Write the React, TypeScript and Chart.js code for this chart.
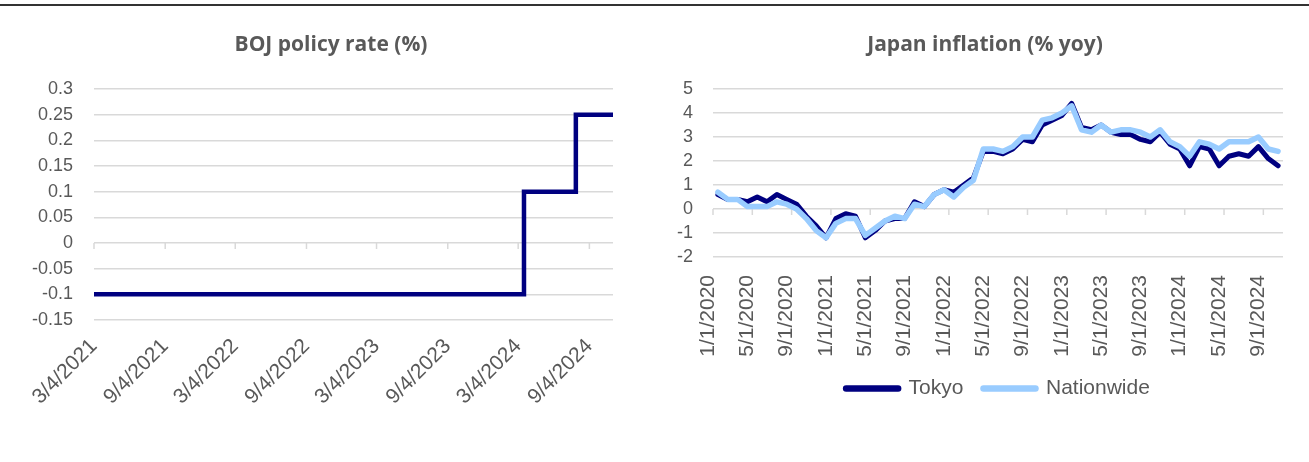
import React, { useEffect, useRef } from "react";
import { Chart, registerables } from "chart.js";

Chart.register(...registerables);

// ---------- BOJ policy rate ----------
const bojDates = ["2021-03-04", "2024-03-19", "2024-07-31", "2024-11-04"];
const bojRates = [-0.1, 0.1, 0.25, 0.25];
const bojTickLabels = [
  "3/4/2021", "9/4/2021", "3/4/2022", "9/4/2022",
  "3/4/2023", "9/4/2023", "3/4/2024", "9/4/2024",
];

// ---------- Japan inflation ----------
const cpiMonths = [
  "1/1/2020", "2/1/2020", "3/1/2020", "4/1/2020", "5/1/2020", "6/1/2020", "7/1/2020", "8/1/2020", "9/1/2020", "10/1/2020", "11/1/2020", "12/1/2020",
  "1/1/2021", "2/1/2021", "3/1/2021", "4/1/2021", "5/1/2021", "6/1/2021", "7/1/2021", "8/1/2021", "9/1/2021", "10/1/2021", "11/1/2021", "12/1/2021",
  "1/1/2022", "2/1/2022", "3/1/2022", "4/1/2022", "5/1/2022", "6/1/2022", "7/1/2022", "8/1/2022", "9/1/2022", "10/1/2022", "11/1/2022", "12/1/2022",
  "1/1/2023", "2/1/2023", "3/1/2023", "4/1/2023", "5/1/2023", "6/1/2023", "7/1/2023", "8/1/2023", "9/1/2023", "10/1/2023", "11/1/2023", "12/1/2023",
  "1/1/2024", "2/1/2024", "3/1/2024", "4/1/2024", "5/1/2024", "6/1/2024", "7/1/2024", "8/1/2024", "9/1/2024", "10/1/2024",
];
const tokyo = [
  0.6, 0.4, 0.4, 0.3, 0.5, 0.3, 0.6, 0.4, 0.2, -0.3, -0.7, -1.2,
  -0.4, -0.2, -0.3, -1.2, -0.9, -0.5, -0.4, -0.4, 0.3, 0.1, 0.6, 0.8,
  0.7, 1.0, 1.3, 2.4, 2.4, 2.3, 2.5, 2.9, 2.8, 3.5, 3.7, 3.9,
  4.4, 3.4, 3.3, 3.5, 3.2, 3.1, 3.1, 2.9, 2.8, 3.2, 2.7, 2.5,
  1.8, 2.6, 2.5, 1.8, 2.2, 2.3, 2.2, 2.6, 2.1, 1.8,
];
const nationwide = [
  0.7, 0.4, 0.4, 0.1, 0.1, 0.1, 0.3, 0.2, 0.0, -0.4, -0.9, -1.2,
  -0.6, -0.4, -0.4, -1.1, -0.8, -0.5, -0.3, -0.4, 0.2, 0.1, 0.6, 0.8,
  0.5, 0.9, 1.2, 2.5, 2.5, 2.4, 2.6, 3.0, 3.0, 3.7, 3.8, 4.0,
  4.3, 3.3, 3.2, 3.5, 3.2, 3.3, 3.3, 3.2, 3.0, 3.3, 2.8, 2.6,
  2.2, 2.8, 2.7, 2.5, 2.8, 2.8, 2.8, 3.0, 2.5, 2.4,
];
const cpiLabelEvery = 4;

const GRID = "#d9d9d9";
const TEXT = "#595959";
const NAVY = "#000080";
const LIGHT = "#99CCFF";
const FONT = "'Liberation Sans', Arial, sans-serif";

function parseMDY(s: string): number {
  const [m, d, y] = s.split("/").map(Number);
  return Date.UTC(y, m - 1, d);
}

function zeroTickPlugin(getXs: (chart: any) => number[]) {
  return {
    id: "zeroTicks",
    beforeDatasetsDraw(chart: any) {
      const y0 = chart.scales.y.getPixelForValue(0);
      const ctx = chart.ctx;
      ctx.save();
      ctx.strokeStyle = GRID;
      ctx.lineWidth = 1.5;
      ctx.beginPath();
      for (const x of getXs(chart)) {
        ctx.moveTo(x, y0);
        ctx.lineTo(x, y0 + 6);
      }
      ctx.stroke();
      ctx.restore();
    },
  };
}

export default function App() {
  const leftRef = useRef<HTMLCanvasElement>(null);
  const rightRef = useRef<HTMLCanvasElement>(null);

  useEffect(() => {
    const bojPoints = bojDates.map((d, i) => ({ x: Date.parse(d), y: bojRates[i] }));
    const left = new Chart(leftRef.current!, {
      type: "line",
      data: {
        datasets: [
          {
            label: "BOJ policy rate",
            data: bojPoints,
            borderColor: NAVY,
            backgroundColor: NAVY,
            borderWidth: 4.5,
            stepped: true,
            pointRadius: 0,
            borderJoinStyle: "miter",
          },
        ],
      },
      options: {
        responsive: false,
        animation: false,
        layout: { padding: { top: 89, right: 47, bottom: 0, left: 0 } },
        plugins: { legend: { display: false }, title: { display: false }, tooltip: { enabled: false } },
        scales: {
          x: {
            type: "linear",
            min: Date.parse(bojDates[0]),
            max: Date.parse(bojDates[bojDates.length - 1]),
            afterBuildTicks: (s: any) => {
              s.ticks = bojTickLabels.map((l) => ({ value: parseMDY(l) }));
            },
            afterFit: (s: any) => {
              s.height = 142;
            },
            grid: { display: false },
            border: { display: false },
            ticks: {
              autoSkip: false,
              minRotation: 45,
              maxRotation: 45,
              padding: 6,
              color: TEXT,
              font: { family: FONT, size: 21 },
              callback: (_v: any, i: number) => bojTickLabels[i],
            },
          },
          y: {
            min: -0.15,
            max: 0.3,
            afterFit: (s: any) => {
              s.width = 94;
            },
            grid: { color: GRID, lineWidth: 1.5, drawTicks: false },
            border: { display: false },
            ticks: {
              stepSize: 0.05,
              padding: 21,
              color: TEXT,
              font: { family: FONT, size: 18, lineHeight: 1 },
              callback: (v: any) => String(Math.round(Number(v) * 100) / 100),
            },
          },
        },
      },
      plugins: [
        zeroTickPlugin((chart) => chart.scales.x.ticks.map((t: any) => chart.scales.x.getPixelForValue(t.value))),
      ],
    } as any);

    const right = new Chart(rightRef.current!, {
      type: "line",
      data: {
        labels: cpiMonths,
        datasets: [
          {
            label: "Tokyo",
            data: tokyo,
            borderColor: NAVY,
            backgroundColor: NAVY,
            borderWidth: 5,
            pointRadius: 0,
            borderJoinStyle: "round",
            borderCapStyle: "round",
            order: 1,
          },
          {
            label: "Nationwide",
            data: nationwide,
            borderColor: LIGHT,
            backgroundColor: LIGHT,
            borderWidth: 5.5,
            pointRadius: 0,
            borderJoinStyle: "round",
            borderCapStyle: "round",
            order: 0,
          },
        ],
      },
      options: {
        responsive: false,
        animation: false,
        layout: { padding: { top: 89, right: 26, bottom: 53, left: 0 } },
        plugins: {
          title: { display: false },
          tooltip: { enabled: false },
          legend: {
            display: true,
            position: "bottom",
            fullSize: false,
            labels: {
              usePointStyle: true,
              pointStyle: "line",
              pointStyleWidth: 52,
              padding: 20,
              color: TEXT,
              font: { family: FONT, size: 21 },
              sort: (a: any, b: any) => a.datasetIndex - b.datasetIndex,
              generateLabels: (chart: any) =>
                Chart.defaults.plugins.legend.labels
                  .generateLabels(chart)
                  .map((l: any) => ({ ...l, lineWidth: 6.5, lineCap: "round" })),
            },
          },
        },
        scales: {
          x: {
            type: "category",
            offset: true,
            afterFit: (s: any) => {
              s.height = 101;
            },
            grid: { display: false },
            border: { display: false },
            ticks: {
              autoSkip: false,
              minRotation: 90,
              maxRotation: 90,
              padding: 10,
              labelOffset: -10,
              color: TEXT,
              font: { family: FONT, size: 21 },
              callback: (_v: any, i: number) => (i % cpiLabelEvery === 0 ? cpiMonths[i] : null),
            },
          },
          y: {
            min: -2,
            max: 5,
            afterFit: (s: any) => {
              s.width = 53;
            },
            grid: { color: GRID, lineWidth: 1.5, drawTicks: false },
            border: { display: false },
            ticks: {
              stepSize: 1,
              padding: 20,
              color: TEXT,
              font: { family: FONT, size: 18, lineHeight: 1 },
            },
          },
        },
      },
      plugins: [
        zeroTickPlugin((chart) => {
          const x = chart.scales.x;
          const half = (x.getPixelForValue(1) - x.getPixelForValue(0)) / 2;
          const xs: number[] = [];
          for (let i = 0; i < cpiMonths.length; i += cpiLabelEvery) xs.push(x.getPixelForValue(i) - half);
          return xs;
        }),
      ],
    } as any);

    return () => {
      left.destroy();
      right.destroy();
    };
  }, []);

  const titleStyle: React.CSSProperties = {
    position: "absolute",
    top: 31,
    width: 400,
    textAlign: "center",
    fontFamily: "'Open Sans', Lato, sans-serif",
    fontWeight: 700,
    fontSize: 21,
    lineHeight: "24px",
    color: TEXT,
  };

  return (
    <div style={{ position: "fixed", left: 0, top: 0, width: 1309, height: 462, background: "#fff", overflow: "hidden" }}>
      <div style={{ position: "absolute", left: 0, top: 4, width: 1309, height: 2, background: "#333" }} />
      <div style={{ position: "absolute", left: 0, top: 0, width: 660, height: 462 }}>
        <canvas ref={leftRef} width={660} height={462} />
      </div>
      <div style={{ position: "absolute", left: 660, top: 0, width: 649, height: 462 }}>
        <canvas ref={rightRef} width={649} height={462} />
      </div>
      <div style={{ ...titleStyle, left: 131 }}>BOJ policy rate (%)</div>
      <div style={{ ...titleStyle, left: 785 }}>Japan inflation (% yoy)</div>
    </div>
  );
}
